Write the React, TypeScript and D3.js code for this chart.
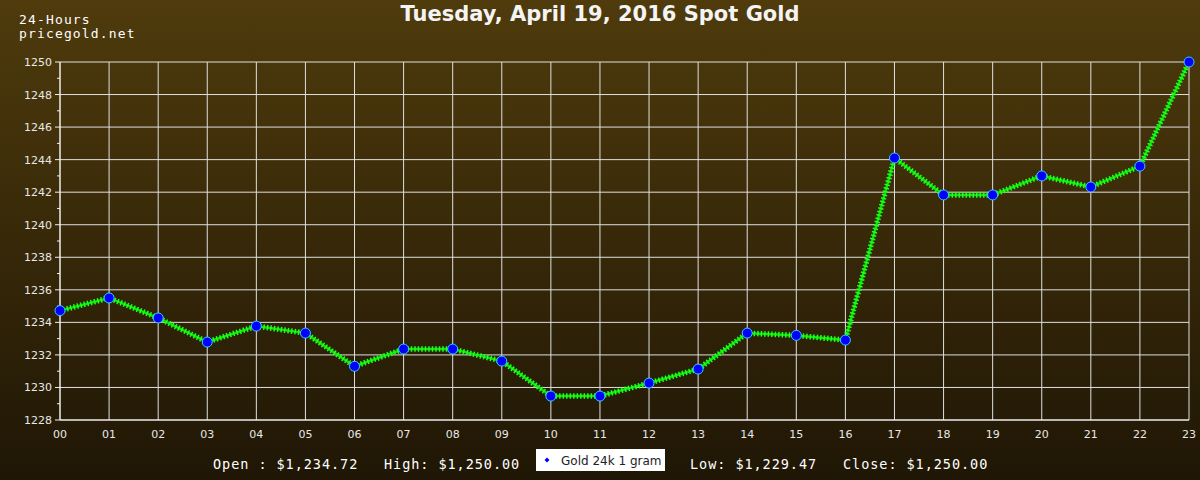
import React from "react";
import * as d3 from "d3";

const hours = ["00","01","02","03","04","05","06","07","08","09","10","11","12","13","14","15","16","17","18","19","20","21","22","23"];
const prices = [1234.72,1235.5,1234.27,1232.79,1233.77,1233.34,1231.3,1232.36,1232.36,1231.62,1229.47,1229.47,1230.27,1231.13,1233.34,1233.2,1232.91,1244.1,1241.83,1241.83,1243.0,1242.32,1243.6,1250.0];
const yTicks = [1228,1230,1232,1234,1236,1238,1240,1242,1244,1246,1248,1250];
const yMinor = [1229,1231,1233,1235,1237,1239,1241,1243,1245,1247,1249];
const title = "Tuesday, April 19, 2016 Spot Gold";
const stats = [
  { label: "Open : $1,234.72", x: 213 },
  { label: "High: $1,250.00", x: 384 },
  { label: "Low: $1,229.47", x: 690 },
  { label: "Close: $1,250.00", x: 843 },
];
const seriesName = "Gold 24k 1 gram";

export default function App() {
  const W = 1200, H = 480;
  const left = 60, right = 1189, top = 62, bottom = 420;
  const x = d3.scalePoint<string>().domain(hours).range([left, right]);
  const y = d3.scaleLinear().domain([1228, 1250]).range([bottom, top]);
  const line = d3.line<number>().x((_, i) => x(hours[i])!).y(d => y(d));
  const path = line(prices)!;
  const mono = "'DejaVu Sans Mono', monospace";
  const sans = "'DejaVu Sans', sans-serif";
  return (
    <svg width={W} height={H} style={{ position: "absolute", left: 0, top: 0 }}>
      <defs>
        <linearGradient id="bg" x1="0" y1="0" x2="0" y2="1">
          <stop offset="0" stopColor="#4f3b0c" />
          <stop offset="1" stopColor="#1f1605" />
        </linearGradient>
      </defs>
      <rect x={0} y={0} width={W} height={H} fill="url(#bg)" />
      {/* grid */}
      {yTicks.map(t => (
        <line key={"gy" + t} x1={left} x2={right} y1={y(t)} y2={y(t)} stroke="#e0e0e0" strokeWidth={1} />
      ))}
      {hours.map(h => (
        <line key={"gx" + h} x1={x(h)} x2={x(h)} y1={top} y2={bottom} stroke="#e0e0e0" strokeWidth={1} />
      ))}
      {/* axes */}
      <line x1={left} x2={left} y1={top} y2={bottom} stroke="#f4f4f4" strokeWidth={1} />
      <line x1={left} x2={right} y1={bottom} y2={bottom} stroke="#f4f4f4" strokeWidth={1} />
      {yTicks.map(t => (
        <g key={"yt" + t}>
          <line x1={left - 5} x2={left} y1={y(t)} y2={y(t)} stroke="#f0f0f0" />
          <text x={left - 8} y={y(t) + 4} textAnchor="end" fill="#e8e8e8" fontFamily={sans} fontSize={11}>{t}</text>
        </g>
      ))}
      {yMinor.map(t => (
        <line key={"ym" + t} x1={left - 3} x2={left} y1={y(t)} y2={y(t)} stroke="#f0f0f0" />
      ))}
      {hours.map(h => (
        <text key={"xt" + h} x={x(h)} y={bottom + 18} textAnchor="middle" fill="#e8e8e8" fontFamily={sans} fontSize={11}>{h}</text>
      ))}
      {/* series */}
      <path d={path} fill="none" stroke="#00e600" strokeWidth={2.5} />
      <path d={path} fill="none" stroke="#22ff22" strokeWidth={5.5} strokeDasharray="1.5 2" />
      {prices.map((p, i) => (
        <circle key={"p" + i} cx={x(hours[i])} cy={y(p)} r={5} fill="#0000ff" stroke="#33ccff" strokeWidth={1} />
      ))}
      {/* texts */}
      <text x={600} y={21} textAnchor="middle" fill="#f4f4f4" fontFamily={sans} fontWeight="bold" fontSize={21}>{title}</text>
      <text x={19} y={24} fill="#ffffff" fontFamily={mono} fontSize={13} letterSpacing={1.15}>24-Hours</text>
      <text x={19} y={38} fill="#ffffff" fontFamily={mono} fontSize={13} letterSpacing={1.15}>pricegold.net</text>
      {stats.map(s => (
        <text key={s.label} x={s.x} y={469} fill="#ffffff" fontFamily={mono} fontSize={13.5} letterSpacing={0.95}>{s.label}</text>
      ))}
      <rect x={536} y={449} width={129} height={22} fill="#ffffff" />
      <path d="M547,457.5 L549.5,460 L547,462.5 L544.5,460 Z" fill="#0000ff" />
      <text x={561} y={464.5} fill="#222222" fontFamily={sans} fontSize={12}>{seriesName}</text>
    </svg>
  );
}
